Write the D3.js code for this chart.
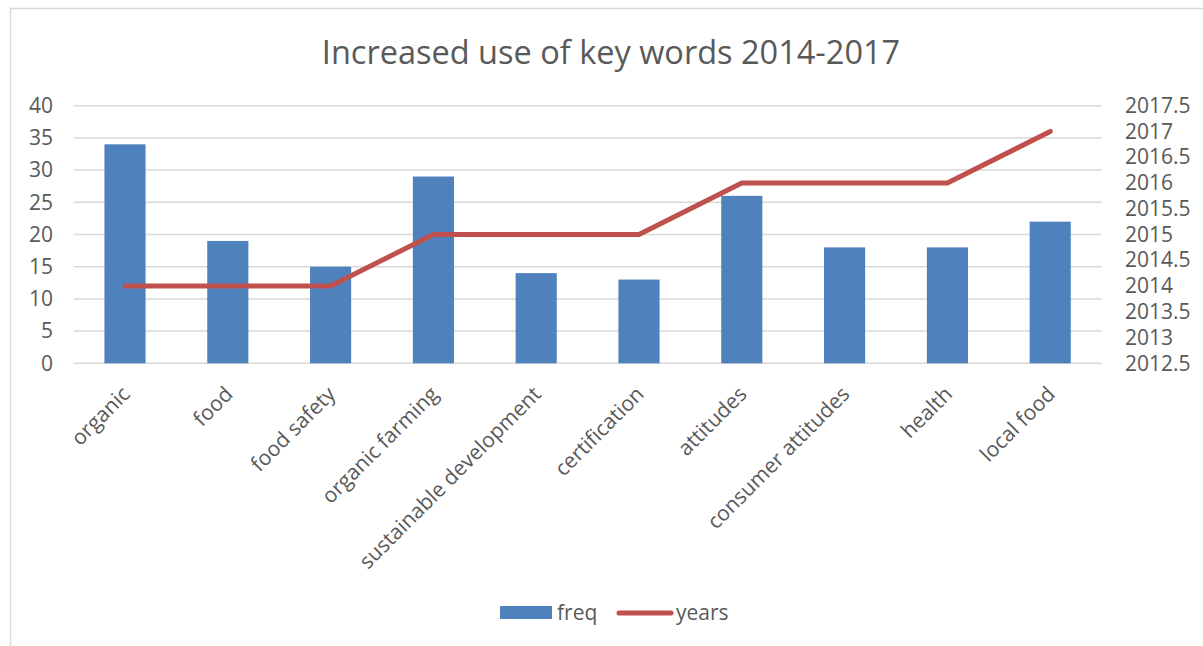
<!DOCTYPE html>
<html>
<head>
<meta charset="utf-8">
<script src="https://cdn.jsdelivr.net/npm/d3@7"></script>
<style>
  html, body { margin: 0; padding: 0; background: #fff; }
  svg { display: block; }
  text { font-family: "Open Sans", "Noto Sans", sans-serif; fill: #595959; }
</style>
</head>
<body>
<svg id="chart" width="1203" height="646"></svg>
<script>
// Keyword frequencies and the year each keyword peaked
const categories = ["organic", "food", "food safety", "organic farming", "sustainable development",
  "certification", "attitudes", "consumer attitudes", "health", "local food"];
const freq = [34, 19, 15, 29, 14, 13, 26, 18, 18, 22];
const years = [2014, 2014, 2014, 2015, 2015, 2015, 2016, 2016, 2016, 2017];
const leftTicks = [0, 5, 10, 15, 20, 25, 30, 35, 40];
const rightTicks = [2012.5, 2013, 2013.5, 2014, 2014.5, 2015, 2015.5, 2016, 2016.5, 2017, 2017.5];
const title = "Increased use of key words 2014-2017";
const seriesNames = ["freq", "years"];

const W = 1203, H = 646;
const plot = { left: 73.6, right: 1101.6, top: 105.7, bottom: 363.3 };
const barColor = "#4f81bd", lineColor = "#c0504d", gridColor = "#d9d9d9";

const svg = d3.select("#chart");
svg.append("rect").attr("width", W).attr("height", H).attr("fill", "#fff");

// chart area frame (left and top edges)
svg.append("path")
  .attr("d", `M10.5,${H} V8.5 H${W}`)
  .attr("fill", "none").attr("stroke", gridColor).attr("stroke-width", 1.5);

const x = d3.scaleBand().domain(categories).range([plot.left, plot.right]).paddingInner(0.6).paddingOuter(0.3);
const xc = d3.scaleBand().domain(categories).range([plot.left, plot.right]);
const y = d3.scaleLinear().domain([0, 40]).range([plot.bottom, plot.top]);
const y2 = d3.scaleLinear().domain([2012.5, 2017.5]).range([plot.bottom, plot.top]);

// horizontal gridlines
svg.append("g").selectAll("line").data(leftTicks).join("line")
  .attr("x1", plot.left).attr("x2", plot.right)
  .attr("y1", d => y(d)).attr("y2", d => y(d))
  .attr("stroke", gridColor).attr("stroke-width", 1.5);

// left axis labels
const leftAxis = d3.axisLeft(y).tickValues(leftTicks).tickSize(0).tickPadding(0);
const gl = svg.append("g").attr("transform", "translate(53,0)").call(leftAxis);
gl.select(".domain").remove();
gl.selectAll("text").style("font-size", "21px").attr("fill", "#595959").style("font-family", null);

// right axis labels
const rightAxis = d3.axisRight(y2).tickValues(rightTicks).tickSize(0).tickPadding(0).tickFormat(d3.format("~f"));
const gr = svg.append("g").attr("transform", "translate(1125,0)").call(rightAxis);
gr.select(".domain").remove();
gr.selectAll("text").style("font-size", "21px").attr("fill", "#595959").style("font-family", null);

// bars
svg.append("g").selectAll("rect").data(categories).join("rect")
  .attr("x", d => x(d)).attr("width", x.bandwidth())
  .attr("y", (d, i) => y(freq[i])).attr("height", (d, i) => y(0) - y(freq[i]))
  .attr("fill", barColor);

// years line
const line = d3.line().x((d, i) => xc(categories[i]) + xc.bandwidth() / 2).y(d => y2(d));
svg.append("path").datum(years).attr("d", line)
  .attr("fill", "none").attr("stroke", lineColor).attr("stroke-width", 5)
  .attr("stroke-linecap", "round").attr("stroke-linejoin", "round");

// category labels, rotated
const bottomAxis = d3.axisBottom(xc).tickSize(0).tickPadding(0);
const gb = svg.append("g").attr("transform", `translate(0,${plot.bottom})`).call(bottomAxis);
gb.select(".domain").remove();
gb.selectAll(".tick text")
  .style("font-size", "21px").attr("fill", "#595959").style("font-family", null)
  .attr("text-anchor", "end").attr("y", 0).attr("dy", "0.35em")
  .attr("transform", "translate(1,27) rotate(-45)");

// title
svg.append("text").attr("x", 611).attr("y", 64).attr("text-anchor", "middle")
  .style("font-size", "32.5px").text(title);

// legend
const lg = svg.append("g");
lg.append("rect").attr("x", 500).attr("y", 606).attr("width", 52).attr("height", 13).attr("fill", barColor);
lg.append("text").attr("x", 557).attr("y", 613).attr("dy", "0.35em").style("font-size", "21px").text(seriesNames[0]);
lg.append("line").attr("x1", 619).attr("x2", 671).attr("y1", 613).attr("y2", 613)
  .attr("stroke", lineColor).attr("stroke-width", 5).attr("stroke-linecap", "round");
lg.append("text").attr("x", 676).attr("y", 613).attr("dy", "0.35em").style("font-size", "21px").text(seriesNames[1]);
</script>
</body>
</html>
